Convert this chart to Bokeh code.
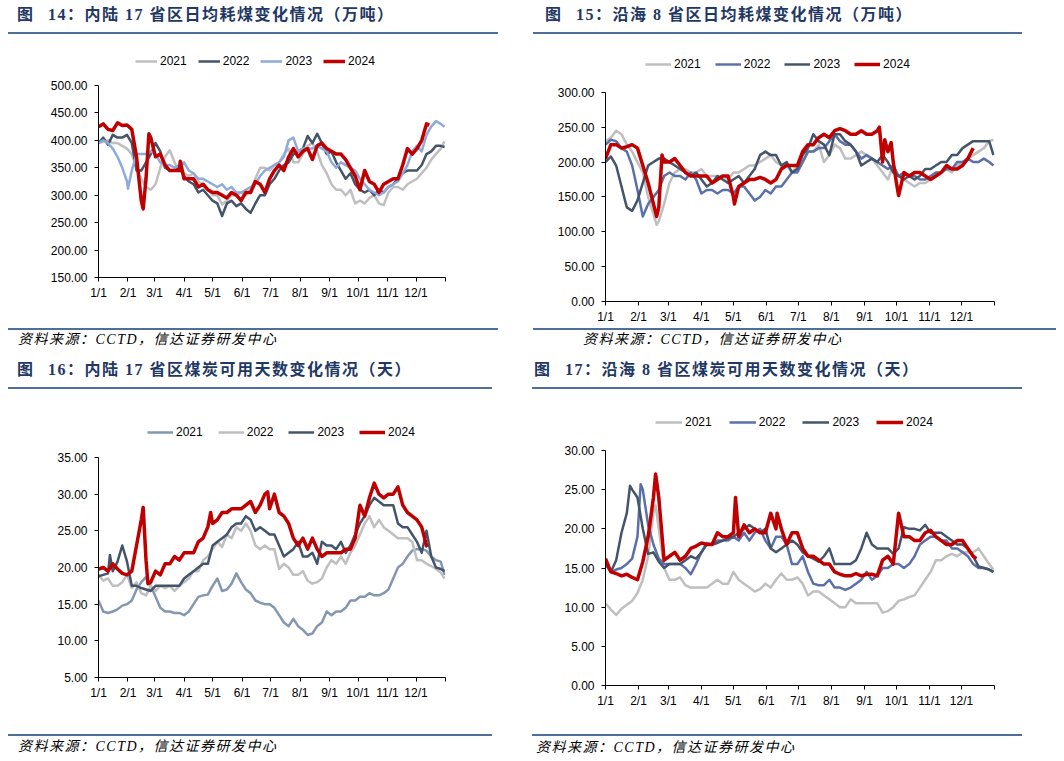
from bokeh.plotting import figure
from bokeh.models import Range1d, FixedTicker, NumeralTickFormatter, Legend, LegendItem, Div
from bokeh.layouts import column, row
from bokeh.embed import file_html
from bokeh.resources import INLINE

# ---------------- shared axis data ----------------
GRID = list(range(0, 361, 5)) + [364]          # day-of-year sample grid (1/1 = 0)
MONTH_DAYS = [0, 31, 59, 90, 120, 151, 181, 212, 243, 273, 304, 334, 365]
MONTH_LABELS = ["1/1", "2/1", "3/1", "4/1", "5/1", "6/1", "7/1", "8/1", "9/1", "10/1", "11/1", "12/1", ""]
YEARS = ["2021", "2022", "2023", "2024"]

TITLE14 = "图 14：内陆 17 省区日均耗煤变化情况（万吨）"
TITLE15 = "图 15：沿海 8 省区日均耗煤变化情况（万吨）"
TITLE16 = "图 16：内陆 17 省区煤炭可用天数变化情况（天）"
TITLE17 = "图 17：沿海 8 省区煤炭可用天数变化情况（天）"
SOURCE = "资料来源：CCTD，信达证券研发中心"

# ---------------- 图14 内陆17省区日均耗煤（万吨） ----------------
yticks14 = [150, 200, 250, 300, 350, 400, 450, 500]
v14_2021 = [395, 398, 400, 395, 395, 390, 385, 375, 350, 330,
            315, 310, 320, 350, 370, 382, 360, 345, 340, 335,
            340, 325, 320, 310, 300, 300, 283, 290, 300, 300,
            305, 300, 310, 330, 350, 350, 345, 355, 360, 375,
            385, 360, 360, 375, 390, 395, 380, 355, 340, 320,
            310, 310, 300, 310, 285, 290, 285, 295, 300, 285,
            282, 305, 315, 315, 310, 320, 325, 330, 340, 350,
            365, 375, 385, 398]
v14_2022 = [395, 405, 392, 410, 405, 405, 410, 395, 345, 345,
            360, 375, 395, 380, 350, 345, 345, 350, 335, 325,
            320, 305, 310, 300, 290, 285, 262, 285, 290, 280,
            285, 275, 268, 285, 300, 300, 320, 330, 345, 355,
            360, 375, 380, 385, 408, 395, 412, 395, 375, 380,
            360, 345, 330, 340, 320, 310, 305, 310, 300, 310,
            305, 315, 320, 330, 340, 345, 345, 345, 355, 375,
            380, 390, 390, 388]
v14_2023 = [395, 400, 395, 385, 370, 350, 325, 345, 375, 375,
            375, 380, 375, 360, 355, 355, 350, 355, 360, 345,
            340, 330, 330, 325, 320, 315, 320, 310, 315, 305,
            305, 310, 315, 320, 335, 345, 350, 355, 360, 370,
            400, 405, 380, 385, 385, 385, 390, 385, 380, 360,
            350, 360, 355, 350, 345, 330, 320, 310, 305, 300,
            305, 315, 320, 325, 340, 355, 380, 390, 380, 410,
            425, 435, 430, 425]
v14_2024 = [425, 430, 420, 418, 432, 427, 428, 420, 370, 290,
            330, 405, 370, 375, 355, 345, 345, 345, 330, 330,
            330, 315, 320, 310, 305, 305, 300, 295, 305, 300,
            290, 305, 305, 325, 320, 305, 330, 345, 355, 345,
            370, 385, 370, 380, 385, 365, 390, 395, 385, 380,
            375, 375, 365, 350, 335, 310, 345, 325, 320, 305,
            320, 325, 330, 330, 355, 385, 375, 385, 400, 430]
x14_2023 = [(31, 312)]
x14_2024 = [(47, 275), (53, 412), (86, 362), (348, 428)]

# ---------------- 图15 沿海8省区日均耗煤（万吨） ----------------
yticks15 = [0, 50, 100, 150, 200, 250, 300]
v15_2021 = [230, 235, 245, 240, 225, 215, 200, 185, 150, 125,
            115, 140, 170, 185, 190, 190, 185, 185, 190, 180,
            180, 180, 180, 175, 185, 185, 190, 195, 195, 200,
            205, 210, 200, 195, 195, 185, 195, 200, 215, 215,
            225, 200, 210, 225, 220, 205, 205, 210, 215, 210,
            205, 195, 185, 175, 195, 180, 175, 170, 165, 170,
            170, 175, 180, 185, 190, 185, 195, 200, 205, 210,
            215, 220, 230, 232]
v15_2022 = [225, 232, 230, 220, 215, 195, 160, 122, 140, 150,
            160, 180, 185, 180, 180, 175, 185, 175, 155, 160,
            160, 155, 160, 160, 155, 165, 165, 155, 145, 150,
            160, 155, 165, 165, 175, 185, 185, 200, 215, 215,
            220, 220, 230, 240, 230, 225, 225, 215, 205, 210,
            205, 200, 195, 190, 195, 180, 185, 180, 180, 175,
            175, 180, 185, 185, 190, 190, 200, 200, 205, 200,
            200, 205, 200, 195]
v15_2023 = [200, 208, 195, 165, 135, 130, 145, 170, 195, 200,
            205, 205, 200, 195, 190, 185, 180, 185, 175, 165,
            170, 180, 175, 170, 175, 180, 170, 180, 190, 210,
            215, 210, 210, 195, 200, 185, 190, 210, 220, 240,
            230, 225, 210, 240, 240, 230, 225, 215, 195, 200,
            205, 200, 210, 200, 185, 180, 175, 180, 175, 180,
            190, 190, 195, 200, 200, 210, 210, 220, 225, 230,
            230, 230, 230, 210]
v15_2024 = [205, 225, 225, 220, 222, 225, 220, 195, 170, 140,
            135, 200, 200, 205, 195, 185, 180, 180, 180, 180,
            170, 175, 180, 180, 150, 165, 170, 175, 175, 178,
            175, 170, 175, 190, 195, 195, 195, 215, 225, 225,
            235, 240, 235, 245, 248, 245, 240, 240, 245, 240,
            240, 245, 200, 215, 200, 152, 185, 180, 185, 185,
            180, 175, 180, 185, 195, 190, 190, 195, 205, 220]
x15_2021 = [(48, 110)]
x15_2024 = [(48, 122), (53, 210), (121, 140), (257, 250), (262, 232), (268, 228), (273, 170)]

# ---------------- 图16 内陆17省区煤炭可用天数（天） ----------------
yticks16 = [5, 10, 15, 20, 25, 30, 35]
v16_2021 = [15.5, 14.0, 13.8, 14.0, 14.3, 14.8, 15.0, 15.5, 17.0, 18.0,
            18.7, 17.5, 16.0, 14.5, 14.0, 14.0, 13.8, 13.8, 13.5, 14.0,
            15.0, 16.0, 16.2, 16.3, 17.5, 18.5, 16.8, 17.0, 17.8, 19.2,
            18.0, 17.0, 16.5, 15.5, 15.2, 15.0, 15.0, 14.5, 13.5, 12.5,
            12.0, 13.0, 12.0, 11.5, 10.8, 11.0, 12.0, 12.5, 14.0, 13.5,
            14.0, 14.0, 14.5, 15.5, 15.5, 16.0, 16.0, 16.5, 16.2, 16.2,
            16.5, 17.0, 18.5, 20.0, 20.5, 21.5, 22.3, 22.5, 22.5, 22.3,
            21.5, 21.0, 20.8, 19.0]
v16_2022 = [19.0, 18.2, 18.5, 17.5, 17.5, 18.0, 19.0, 17.2, 18.0, 16.5,
            16.2, 17.5, 16.8, 17.5, 17.2, 17.5, 16.8, 17.5, 18.0, 18.5,
            19.5, 19.5, 21.0, 21.5, 22.5, 23.5, 22.8, 24.5, 24.0, 25.5,
            25.0, 26.0, 25.0, 23.0, 22.5, 23.0, 22.5, 22.5, 19.8, 20.5,
            20.0, 19.0, 19.0, 19.5, 18.2, 17.8, 18.0, 18.5, 20.0, 21.0,
            20.5, 21.5, 20.5, 22.0, 23.0, 24.5, 26.0, 27.0, 25.5, 26.5,
            25.5, 25.0, 24.5, 24.0, 24.0, 24.0, 23.5, 21.0, 21.0, 20.5,
            20.2, 19.8, 19.3, 18.5]
v16_2023 = [18.8, 19.0, 19.2, 19.5, 20.8, 23.0, 20.8, 17.5, 17.5, 17.2,
            17.0, 16.8, 17.5, 17.5, 17.5, 17.5, 17.5, 17.5, 18.5, 19.0,
            19.5, 20.0, 20.5, 20.5, 23.0, 23.5, 24.0, 24.5, 25.5, 26.0,
            26.0, 27.0, 26.5, 25.0, 25.5, 25.0, 24.5, 24.5, 23.0, 21.5,
            22.0, 22.5, 23.5, 21.5, 21.5, 22.0, 20.5, 23.5, 23.0, 23.0,
            22.5, 23.5, 22.0, 23.0, 24.5, 26.0, 27.0, 28.5, 29.5, 29.0,
            28.5, 28.5, 28.5, 26.0, 25.5, 25.5, 24.5, 23.5, 22.0, 25.0,
            21.5, 20.0, 19.8, 19.5]
v16_2024 = [19.8, 20.0, 19.5, 20.5, 19.8, 19.2, 19.0, 19.5, 23.0, 26.5,
            21.0, 18.0, 19.5, 19.0, 20.5, 20.5, 21.5, 21.0, 22.0, 22.0,
            22.0, 23.5, 24.0, 25.5, 26.0, 26.5, 27.5, 27.5, 28.0, 28.0,
            28.0, 28.5, 29.0, 27.5, 28.5, 30.0, 28.0, 30.0, 27.5, 27.0,
            26.0, 24.0, 23.0, 24.0, 22.5, 24.0, 22.5, 21.5, 22.0, 22.0,
            22.0, 22.0, 22.5, 22.5, 24.0, 28.5, 27.0, 29.5, 31.5, 30.0,
            29.5, 30.0, 30.0, 31.0, 28.5, 27.5, 27.0, 26.5, 25.5, 23.0]
x16_2023 = [(12, 21.7)]
x16_2024 = [(47, 28.2), (52, 17.8), (118, 27.5), (178, 30.3), (346, 22.8)]

# ---------------- 图17 沿海8省区煤炭可用天数（天） ----------------
yticks17 = [0, 5, 10, 15, 20, 25, 30]
v17_2021 = [10.5, 9.7, 9.0, 9.8, 10.3, 10.8, 11.8, 13.5, 16.5, 22.0,
            20.0, 15.0, 13.5, 13.5, 13.8, 12.8, 12.5, 12.5, 12.5, 12.5,
            13.0, 13.5, 13.0, 13.0, 14.5, 13.5, 13.0, 12.5, 12.0, 12.3,
            13.0, 12.5, 13.5, 14.3, 13.5, 13.5, 13.8, 13.0, 11.5, 12.0,
            12.0, 11.5, 11.0, 10.5, 10.0, 10.0, 11.0, 10.5, 10.5, 10.5,
            10.5, 10.5, 9.3, 9.5, 10.0, 10.8, 11.0, 11.3, 11.5, 12.5,
            13.5, 14.5, 16.0, 16.0, 16.5, 16.8, 16.5, 17.0, 17.0, 17.0,
            17.5, 16.5, 15.5, 14.8]
v17_2022 = [15.5, 14.5, 14.8, 15.0, 15.5, 16.2, 19.0, 25.0, 20.5, 18.0,
            16.2, 15.5, 15.5, 15.5, 15.5, 15.0, 14.2, 15.5, 17.0, 18.2,
            18.0, 18.5, 18.5, 18.5, 19.0, 18.5, 19.5, 18.5, 19.5, 20.0,
            18.5, 17.5, 19.0, 19.0, 18.0, 15.5, 15.5, 16.5, 14.5, 13.0,
            12.8, 12.8, 13.5, 12.5, 12.5, 12.2, 12.5, 13.0, 13.5, 14.5,
            13.5, 14.0, 15.0, 15.0, 15.5, 15.5, 15.0, 15.5, 16.5, 18.0,
            18.5, 19.0, 19.0, 18.5, 18.5, 17.5, 17.5, 17.0, 16.5, 15.5,
            15.0, 15.0, 14.8, 14.5]
v17_2023 = [15.5, 14.5, 16.0, 19.5, 22.0, 25.0, 24.0, 20.0, 16.8, 17.0,
            15.8, 15.0, 15.5, 15.5, 15.5, 16.0, 16.5, 16.2, 17.0, 18.0,
            18.0, 18.2, 18.5, 18.8, 19.0, 19.5, 20.0, 20.5, 20.0, 19.5,
            20.0, 17.5, 17.0, 17.5, 18.0, 18.5, 18.0, 17.0, 16.5, 16.2,
            15.8, 16.5, 17.5, 15.5, 15.5, 15.5, 15.5, 16.0, 17.5, 19.5,
            18.0, 17.5, 17.5, 17.5, 16.8, 17.5, 20.2, 20.0, 20.0, 19.8,
            20.5, 19.5, 19.5, 19.5, 19.0, 18.5, 18.0, 18.0, 17.5, 16.5,
            15.2, 15.0, 14.8, 14.5]
v17_2024 = [16.2, 14.5, 14.3, 14.0, 14.2, 13.8, 13.5, 15.8, 19.0, 24.0,
            24.0, 16.0, 16.5, 17.0, 16.0, 16.5, 17.5, 17.8, 18.2, 18.0,
            18.0, 19.5, 19.0, 19.0, 19.5, 19.0, 20.5, 19.5, 20.0, 19.5,
            19.5, 22.0, 20.0, 20.0, 18.0, 19.5, 19.5, 17.5, 16.5, 16.5,
            16.0, 15.5, 15.5, 14.5, 14.2, 14.0, 14.0, 14.3, 14.0, 14.2,
            14.2, 14.0, 16.0, 16.5, 15.5, 22.0, 19.0, 19.0, 18.5, 18.5,
            19.5, 19.8, 19.0, 18.5, 18.0, 18.0, 18.5, 18.5, 17.5, 16.5]
x17_2021 = [(47, 23.0)]
x17_2022 = [(33, 25.7)]
x17_2023 = [(23, 25.5)]
x17_2024 = [(47, 27.0), (122, 24.0), (161, 22.0), (348, 16.2)]

# ---------------- styles ----------------
GRAY, NAVY, LBLUE, MBLUE, BGRAY, RED = "#BFBFBF", "#44546A", "#8EA9DB", "#5B6FAA", "#8497B0", "#C00000"
DIVIDER = "#4F6E9A"
TITLE_COLOR = "#1F3864"
AXIS_FONT = "Liberation Sans"


def series(vals, extra=()):
    assert len(vals) <= len(GRID)
    pts = dict(zip(GRID[:len(vals)], vals))
    for d, v in extra:
        pts[d] = v
    days = sorted(pts)
    return days, [pts[d] for d in days]


def build(height, borders, head_px, yticks, data, colors, leg_xy, glyph_w, spacing):
    """head_px: free strip (in px) kept above the top tick inside the frame for the legend."""
    l, r, t, b = borders
    lo, hi = yticks[0], yticks[-1]
    frame_h = height - t - b
    top = hi + head_px * (hi - lo) / (frame_h - head_px)
    p = figure(width=524, height=height, x_range=Range1d(0, 365),
               y_range=Range1d(lo, top),
               output_backend="svg", toolbar_location=None,
               min_border_left=l, min_border_right=r, min_border_top=t, min_border_bottom=b)
    p.outline_line_color = None
    p.xgrid.visible = False
    p.ygrid.visible = False
    for ax in (p.xaxis[0], p.yaxis[0]):
        ax.axis_line_color = "#000000"
        ax.axis_line_width = 1
        ax.major_tick_line_color = "#000000"
        ax.major_tick_out = 4
        ax.major_tick_in = 0
        ax.minor_tick_line_color = None
        ax.major_label_text_font = AXIS_FONT
        ax.major_label_text_font_size = "12px"
        ax.major_label_text_color = "#000000"
    p.xaxis.ticker = FixedTicker(ticks=MONTH_DAYS)
    p.xaxis.major_label_overrides = dict(zip(MONTH_DAYS, MONTH_LABELS))
    p.xaxis.major_label_standoff = 4
    p.yaxis.ticker = FixedTicker(ticks=yticks)
    p.yaxis.formatter = NumeralTickFormatter(format="0.00")
    p.yaxis.major_label_standoff = 7
    p.yaxis.bounds = (lo, hi)

    items = []
    for (vals, extra), col, yr in zip(data, colors, YEARS):
        xs, ys = series(vals, extra)
        lw = 3.5 if col == RED else 2.5
        rr = p.line(xs, ys, line_color=col, line_width=lw, line_join="round")
        items.append(LegendItem(label=yr, renderers=[rr]))
    leg = Legend(items=items, orientation="horizontal", location=leg_xy,
                 glyph_width=glyph_w, glyph_height=14, label_height=14,
                 label_standoff=3, spacing=spacing, padding=0, margin=0,
                 border_line_color=None, background_fill_alpha=0,
                 label_text_font=AXIS_FONT, label_text_font_size="12px",
                 label_text_color="#000000")
    p.add_layout(leg)
    return p


fig14 = build(290, (90, 87, 14, 49), 35, yticks14,
              [(v14_2021, ()), (v14_2022, ()), (v14_2023, x14_2023), (v14_2024, x14_2024)],
              [GRAY, NAVY, LBLUE, RED], (37, 209), 22, 11)
fig15 = build(290, (73, 62, 19, 24), 37, yticks15,
              [(v15_2021, x15_2021), (v15_2022, ()), (v15_2023, ()), (v15_2024, x15_2024)],
              [GRAY, MBLUE, NAVY, RED], (40, 230), 26, 14)
fig16 = build(341, (60, 63, 30, 54), 37, yticks16,
              [(v16_2021, ()), (v16_2022, ()), (v16_2023, x16_2023), (v16_2024, x16_2024)],
              [BGRAY, GRAY, NAVY, RED], (49, 238), 26, 15)
fig17 = build(341, (56, 48, 20, 46), 40, yticks17,
              [(v17_2021, x17_2021), (v17_2022, x17_2022), (v17_2023, x17_2023), (v17_2024, x17_2024)],
              [GRAY, MBLUE, NAVY, RED], (50, 256), 27, 17)

# ---------------- headers / footers (HTML) ----------------
TSTYLE = ("position:absolute;white-space:nowrap;font-family:'Liberation Serif','Noto Sans CJK SC';"
          "font-weight:bold;font-size:16px;line-height:18px;letter-spacing:1.5px;color:%s;" % TITLE_COLOR)
SSTYLE = ("position:absolute;white-space:nowrap;font-family:'Liberation Serif','Noto Sans CJK SC';"
          "font-style:italic;font-size:14px;line-height:16px;letter-spacing:1.5px;color:#000000;")


def title_html(text, left, top):
    head, rest = text.split(" ", 1)
    return ('<div style="%sleft:%dpx;top:%dpx;"><span style="margin-right:8px">%s</span> %s</div>'
            % (TSTYLE, left, top, head, rest))


def src_html(left, top):
    return '<div style="%sleft:%dpx;top:%dpx;">%s</div>' % (SSTYLE, left, top, SOURCE)


def bar_html(left, top, width):
    return ('<div style="position:absolute;left:%dpx;top:%dpx;width:%dpx;height:2px;background:%s;"></div>'
            % (left, top, width, DIVIDER))


def mkdiv(h, inner):
    html = '<div style="position:relative;width:524px;height:%dpx;">%s</div>' % (h, inner)
    return Div(text=html, width=524, height=h, margin=(0, 0, 0, 0), styles={"overflow": "visible"})


topL = mkdiv(28, title_html(TITLE14, 9, -2) + bar_html(0, 24, 490))
topR = mkdiv(28, title_html(TITLE15, 13, -2) + bar_html(1, 24, 489))
midL = mkdiv(64, bar_html(0, 2, 490) + src_html(10, 6) + title_html(TITLE16, 9, 35) + bar_html(0, 61, 484))
midR = mkdiv(64, bar_html(1, 2, 523) + src_html(51, 6) + title_html(TITLE17, 2, 35) + bar_html(0, 61, 490))
botL = mkdiv(22, bar_html(0, 3, 484) + src_html(10, 8))
botR = mkdiv(22, bar_html(0, 3, 490) + src_html(4, 9))

left = column(topL, fig14, midL, fig16, botL, spacing=0)
right = column(topR, fig15, midR, fig17, botR, spacing=0)
layout = row(left, right, spacing=0, margin=(8, 0, 0, 8))

open("out.html", "w").write(file_html(layout, INLINE))
